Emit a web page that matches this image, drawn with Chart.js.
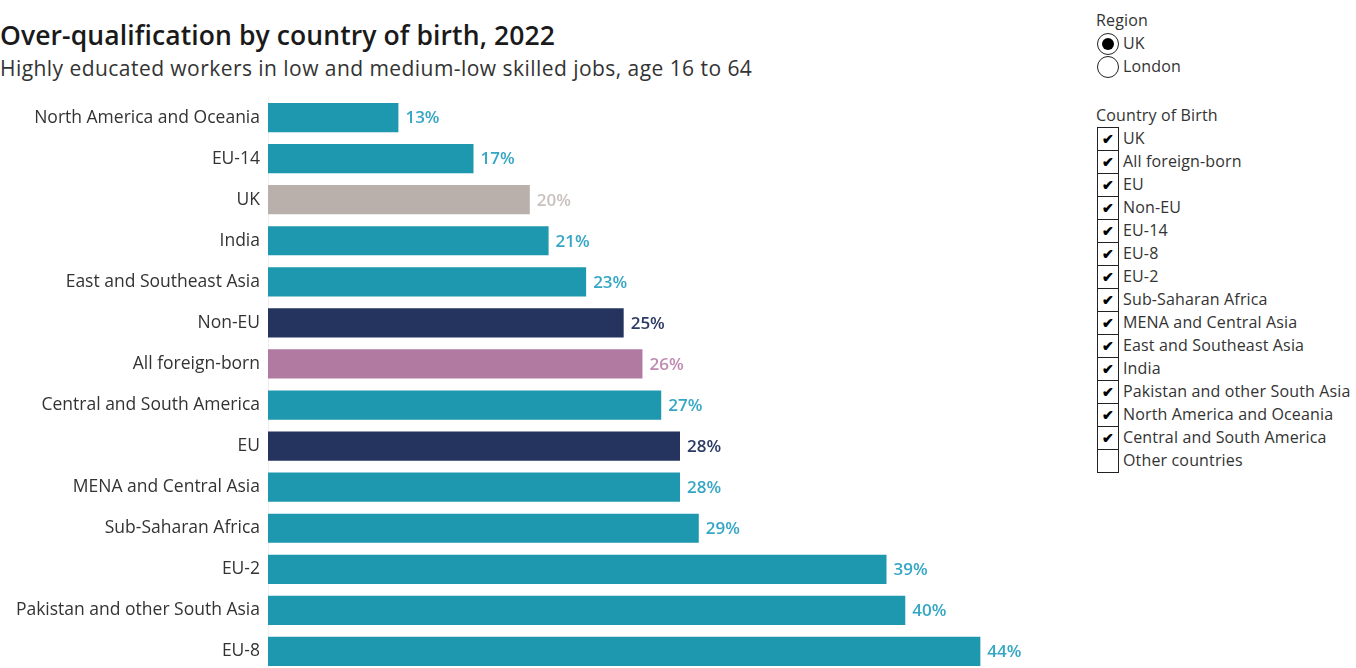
<!DOCTYPE html>
<html>
<head>
<meta charset="utf-8">
<script src="https://cdn.jsdelivr.net/npm/chart.js@4"></script>
<style>
  html, body { margin: 0; padding: 0; background: #fff; overflow: hidden; }
  body { width: 1356px; height: 668px; position: relative; font-family: "Open Sans", sans-serif; color: #333; }
  #title { position: absolute; left: 0; top: 17px; font-size: 26.5px; font-weight: 600; color: #1a1a1a; white-space: nowrap; letter-spacing: 0.1px; }
  #subtitle { position: absolute; left: 0; top: 54px; font-size: 21px; color: #333; white-space: nowrap; letter-spacing: 0.45px; }
  #chartBox { position: absolute; left: 0; top: 97px; width: 1094px; height: 575px; }
  .panel { position: absolute; left: 1096px; font-size: 16px; color: #333; letter-spacing: 0.15px; }
  .panel .head { height: 23px; line-height: 23px; }
  .row { position: relative; height: 23px; line-height: 23px; padding-left: 27px; white-space: nowrap; }
  .radio { position: absolute; left: 1px; top: 1px; width: 22px; height: 22px; border: 1.5px solid #222; border-radius: 50%; box-sizing: border-box; background: #fff; }
  .radio.on::after { content: ""; position: absolute; left: 3.5px; top: 3.5px; width: 12px; height: 12px; border-radius: 50%; background: #000; }
  .box { position: absolute; left: 1px; top: 0; width: 22px; height: 24px; border: 1.5px solid #222; box-sizing: border-box; background: #fff; }
  .box.on::after { content: "\2714"; position: absolute; left: 4px; top: 0; font-size: 14px; font-weight: bold; color: #000; line-height: 22px; }
</style>
</head>
<body>
<div id="title">Over-qualification by country of birth, 2022</div>
<div id="subtitle">Highly educated workers in low and medium-low skilled jobs, age 16 to 64</div>
<div id="chartBox"><canvas id="qualChart"></canvas></div>
<div class="panel" id="regionPanel" style="top: 9px;"></div>
<div class="panel" id="birthPanel" style="top: 104px;"></div>
<script>
// Países / grupos de nacimiento, ordenados de menor a mayor
const countries = ['North America and Oceania', 'EU-14', 'UK', 'India', 'East and Southeast Asia',
  'Non-EU', 'All foreign-born', 'Central and South America', 'EU', 'MENA and Central Asia',
  'Sub-Saharan Africa', 'EU-2', 'Pakistan and other South Asia', 'EU-8'];
const overQualified = [13, 17, 20, 21, 23, 25, 26, 27, 28, 28, 29, 39, 40, 44];

// Filtros del panel derecho
const regions = ['UK', 'London'];
const birthOptions = ['UK', 'All foreign-born', 'EU', 'Non-EU', 'EU-14', 'EU-8', 'EU-2',
  'Sub-Saharan Africa', 'MENA and Central Asia', 'East and Southeast Asia', 'India',
  'Pakistan and other South Asia', 'North America and Oceania', 'Central and South America', 'Other countries'];
const birthChecked = birthOptions.map(c => c !== 'Other countries');

// Colores por tipo de grupo
const barColor = name => {
  if (name === 'UK') return '#bab0ab';
  if (name === 'All foreign-born') return '#b07aa1';
  if (name === 'EU' || name === 'Non-EU') return '#24345e';
  return '#1e98af';
};
const labelColor = name => {
  if (name === 'UK') return '#c9c1bd';
  if (name === 'All foreign-born') return '#c08bb1';
  if (name === 'EU' || name === 'Non-EU') return '#2c3a66';
  return '#35a7c4';
};

// Etiquetas de valor al final de cada barra
const valueLabels = {
  id: 'valueLabels',
  afterDatasetsDraw(chart) {
    const ctx = chart.ctx;
    const meta = chart.getDatasetMeta(0);
    ctx.save();
    ctx.font = '600 17px "Open Sans", sans-serif';
    ctx.textBaseline = 'middle';
    ctx.textAlign = 'left';
    meta.data.forEach((bar, i) => {
      ctx.fillStyle = labelColor(countries[i]);
      ctx.fillText(overQualified[i] + '%', bar.x + 6, bar.y + 1);
    });
    ctx.restore();
  }
};

const ctx = document.getElementById('qualChart').getContext('2d');
const qualChart = new Chart(ctx, {
  type: 'bar',
  data: {
    labels: countries,
    datasets: [{
      data: overQualified,
      backgroundColor: countries.map(barColor),
      borderColor: 'rgba(255,255,255,0.35)',
      borderWidth: 1,
      borderSkipped: false,
      barPercentage: 0.76,
      categoryPercentage: 1
    }]
  },
  plugins: [valueLabels],
  options: {
    indexAxis: 'y',
    responsive: true,
    maintainAspectRatio: false,
    animation: false,
    layout: { padding: 0 },
    plugins: { legend: { display: false }, tooltip: { enabled: false } },
    scales: {
      x: { display: false, min: 6, max: 50 },
      y: {
        afterFit(scale) {
          scale.width = 268;
          scale.paddingTop = 0;
          scale.paddingBottom = 0;
        },
        grid: { display: false, drawTicks: false },
        border: { display: true, color: '#eeeeee', width: 1 },
        ticks: { color: '#333', padding: 8, font: { family: '"Open Sans", sans-serif', size: 17.5 } }
      }
    }
  }
});

// Panel de filtros (solo visual)
const regionPanel = document.getElementById('regionPanel');
regionPanel.innerHTML = '<div class="head">Region</div>' +
  regions.map((r, i) => `<div class="row"><span class="radio${i === 0 ? ' on' : ''}"></span>${r}</div>`).join('');
const birthPanel = document.getElementById('birthPanel');
birthPanel.innerHTML = '<div class="head">Country of Birth</div>' +
  birthOptions.map((c, i) => `<div class="row"><span class="box${birthChecked[i] ? ' on' : ''}"></span>${c}</div>`).join('');
</script>
</body>
</html>
